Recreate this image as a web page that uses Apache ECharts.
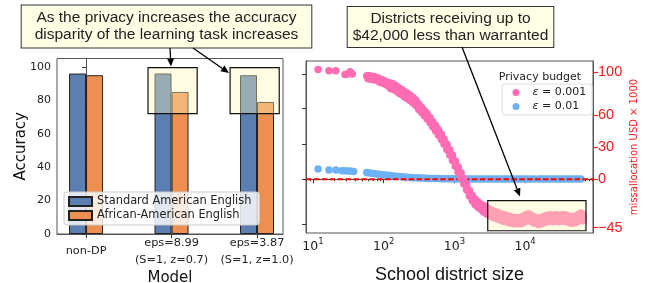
<!DOCTYPE html>
<html>
<head>
<meta charset="utf-8">
<script src="https://cdn.jsdelivr.net/npm/echarts@6/dist/echarts.min.js"></script>
<style>
html, body { margin: 0; padding: 0; background: #fff; }
#chart { width: 646px; height: 283px; }
</style>
</head>
<body>
<div id="chart"></div>
<script>
// ---- left panel: accuracy per model ----
const models = ["non-DP", "eps=8.99\n(S=1, z=0.7)", "eps=3.87\n(S=1, z=1.0)"];
const modelPos = [0, 1, 2];
const saeAcc = [96, 96, 95];
const aaeAcc = [95, 85, 79];
const accTicks = [0, 20, 40, 60, 80, 100];
// highlight boxes: [x0, x1, y0, y1]
const accBoxes = [[0.725, 1.3, 72, 99.5], [1.685, 2.26, 72, 99.5]];

// ---- right panel: missallocation vs district size ----
const sizeTicks = [10, 100, 1000, 10000];
const sizeMinor = [8, 9, 20, 30, 40, 50, 60, 70, 80, 90, 200, 300, 400, 500, 600, 700, 800, 900,
  2000, 3000, 4000, 5000, 6000, 7000, 8000, 9000, 20000, 30000, 40000, 50000, 60000, 70000, 80000, 90000];
const missTicks = [-45, 0, 30, 60, 100];
const spineTicks = [98, 65.7, 32.7, 0, -42.3];

// eps = 0.001, sparse small districts
const pinkSparseSize = [11.8, 16.8, 21, 28.4, 30.9, 33.4, 36, 57.5];
const pinkSparseVal = [102, 101, 101, 97.5, 98, 100, 98, 96];
// eps = 0.001, dense band (middle, upper and lower edge of the cloud)
const bandSize = [60, 66, 72, 79, 87, 95, 104, 114, 125, 137, 150, 165, 180, 198, 217, 238, 260, 285,
  313, 343, 376, 412, 452, 495, 543, 595, 652, 715, 783, 858, 940, 1030, 1130, 1240, 1360, 1490,
  1630, 1790, 1960, 2150, 2350, 2580, 2830, 3100, 3400, 3730, 4090, 4480, 4910, 5380, 5900, 6470,
  7090, 7770, 8520, 9340, 10200, 11200, 12300, 13500, 15500, 17000, 18600, 20400, 22400, 24500,
  26900, 29500, 32300, 35400, 38800, 42500, 46600, 51100, 56000, 61400, 66000];
const pinkMid = [95, 94.5, 94, 93.5, 92, 91, 90, 88.5, 87, 86, 84.5, 82.5, 81, 79, 77.5, 75.5, 73.5, 71,
  67.5, 64.5, 61.5, 58.5, 55, 51, 47.5, 43.5, 39.5, 35, 30, 25, 20, 14.5, 9, 3.5, -2, -7.5,
  -13, -17.5, -21, -23.5, -25.5, -27.5, -29, -30.5, -32, -33, -34, -35, -36, -36.5, -37.5, -38,
  -38.5, -38.5, -38.5, -37.5, -36, -35, -36.5, -38, -39, -38.5, -37.5, -36.5, -36, -36.5,
  -36, -36.5, -36, -36, -36.5, -37.5, -38, -37.5, -36, -34.5, -35.5];
const pinkUpper = [96.5, 96, 95.5, 95, 93.5, 92.5, 91.5, 90, 89.5, 88.5, 87, 85, 83.5, 81.5, 80, 78, 76, 73.5,
  70, 67, 64, 61, 57.5, 53.5, 50, 46, 42, 37.5, 32.5, 27.5, 22.5, 17, 11.5, 6, 0.5, -5,
  -10.5, -15, -18.5, -21, -23, -24.5, -26, -27.5, -29, -30, -31, -32, -33, -33.5, -34.5, -35,
  -35.5, -35.5, -35.5, -34.5, -33, -32, -33.5, -35, -36, -35.5, -34.5, -33.5, -33, -33.5,
  -33, -33.5, -33, -33, -33.5, -34.5, -35, -34.5, -33, -31.5, -32.5];
const pinkLower = [93.5, 93, 92.5, 92, 90.5, 89.5, 88.5, 87, 84.5, 83.5, 82, 80, 78.5, 76.5, 75, 73, 71, 68.5,
  65, 62, 59, 56, 52.5, 48.5, 45, 41, 37, 32.5, 27.5, 22.5, 17.5, 12, 6.5, 1, -4.5, -10,
  -15.5, -20, -23.5, -26, -28, -30.5, -32, -33.5, -35, -36, -37, -38, -39, -39.5, -40.5, -41,
  -41.5, -41.5, -41.5, -40.5, -39, -38, -39.5, -41, -42, -41.5, -40.5, -39.5, -39, -39.5,
  -39, -39.5, -39, -39, -39.5, -40.5, -41, -40.5, -39, -37.5, -38.5];

// eps = 0.01
const blueSparseSize = [11.8, 16.8, 21, 25.5, 28, 31, 34, 37.5, 57.5];
const blueSparseVal = [9.5, 8.6, 8.6, 7.8, 7.8, 7.6, 7.6, 7.3, 6.2];
const blueVal = [6, 5.6, 5.3, 5, 4.6, 4.3, 4, 3.7, 3.4, 3.1, 2.8, 2.5, 2.3, 2.1, 1.9, 1.7, 1.5, 1.3,
  1.2, 1.1, 1, 0.9, 0.8, 0.7, 0.6, 0.6, 0.5, 0.5, 0.5, 0.4, 0.4, 0.4, 0.3, 0.3, 0.3, 0.3,
  0.3, 0.3, 0.2, 0.3, 0.3, 0.2, 0.3, 0.3, 0.2, 0.3, 0.3, 0.2, 0.3, 0.3, 0.2, 0.3,
  0.3, 0.2, 0.3, 0.3, 0.2, 0.3, 0.3, 0.2, 0.3, 0.3, 0.2, 0.3, 0.3, 0.2,
  0.3, 0.3, 0.2, 0.3, 0.3, 0.2, 0.3, 0.3, 0.2, 0.3];
const tailBox = [[2960, 72600, -47.9, -19.8]];

const PINK = "#ff6cb3";
const BLUE = "#6cb1f6";
const BOXFILL = "rgba(255, 246, 185, 0.38)";

function pairs(xs, ys) {
  return ys.map((y, i) => [xs[i], y]);
}

function boxItem(params, api) {
  var p0 = api.coord([api.value(0), api.value(3)]);
  var p1 = api.coord([api.value(1), api.value(2)]);
  return {
    type: "rect",
    shape: { x: p0[0], y: p0[1], width: p1[0] - p0[0], height: p1[1] - p0[1] },
    style: { fill: BOXFILL, stroke: "#111", lineWidth: 1.2 },
  };
}

function arrow(x1, y1, x2, y2) {
  var a = Math.atan2(y2 - y1, x2 - x1);
  var len = 8, w = 3.5;
  var bx = x2 - len * Math.cos(a), by = y2 - len * Math.sin(a);
  return [
    { type: "line", zlevel: 2, z: 100, shape: { x1: x1, y1: y1, x2: bx, y2: by }, style: { stroke: "#000", lineWidth: 1.3 } },
    {
      type: "polygon", zlevel: 2, z: 100,
      shape: { points: [[x2, y2], [bx - w * Math.sin(a), by + w * Math.cos(a)], [bx + w * Math.sin(a), by - w * Math.cos(a)]] },
      style: { fill: "#000" },
    },
  ];
}

function note(text, x, y, pad) {
  return {
    type: "text", zlevel: 2, z: 100, x: x, y: y,
    style: {
      text: text, align: "center", verticalAlign: "middle", textAlign: "center", textVerticalAlign: "middle",
      font: '15.5px "Liberation Sans"', fill: "#222", lineHeight: 17,
      backgroundColor: "#ffffe6", borderColor: "#333", borderWidth: 1, padding: pad,
    },
  };
}

const DJ = "DejaVu Sans";
const LS = "Liberation Sans";

var chart = echarts.init(document.getElementById("chart"), null, { renderer: "canvas" });

var option = {
  animation: false,
  backgroundColor: "#fff",
  grid: [
    { left: 57, right: 363, top: 58.5, bottom: 49, show: true, borderColor: "#555", borderWidth: 1, outerBoundsMode: "none" },
    { left: 306, right: 53, top: 61, bottom: 50, show: true, borderColor: "#555", borderWidth: 1, outerBoundsMode: "none" },
  ],
  xAxis: [
    {
      gridIndex: 0, type: "value", min: -0.34, max: 2.304,
      name: "Model", nameLocation: "middle", nameGap: 36.5, nameMoveOverlap: false,
      nameTextStyle: { fontFamily: DJ, fontSize: 15, color: "#111" },
      axisLine: { lineStyle: { color: "#555" } },
      axisTick: { customValues: modelPos, length: 4, lineStyle: { color: "#333" } },
      axisLabel: {
        customValues: modelPos, formatter: (v) => models[Math.round(v)],
        fontFamily: DJ, fontSize: 11.3, color: "#222", verticalAlign: "middle", margin: 17.5, lineHeight: 17,
      },
      splitLine: { show: false },
    },
    {
      gridIndex: 1, type: "log", logBase: 10, min: 7.96, max: 91200,
      name: "School district size", nameLocation: "middle", nameGap: 33, nameMoveOverlap: false,
      nameTextStyle: { fontFamily: LS, fontSize: 18, color: "#111" },
      axisLine: { lineStyle: { color: "#555" } },
      axisTick: { customValues: sizeTicks, length: 4, lineStyle: { color: "#333" } },
      axisLabel: {
        customValues: sizeTicks, margin: 4,
        formatter: (v) => "{b|10}{s|" + Math.round(Math.log10(v)) + "}",
        rich: {
          b: { fontFamily: DJ, fontSize: 12.5, color: "#222", lineHeight: 16, verticalAlign: "bottom" },
          s: { fontFamily: DJ, fontSize: 8.5, color: "#222", lineHeight: 9, verticalAlign: "top" },
        },
      },
      splitLine: { show: false },
      minorTick: { show: false },
    },
    {
      gridIndex: 1, type: "log", logBase: 10, min: 7.96, max: 91200, position: "bottom",
      axisLine: { show: false },
      axisTick: { customValues: sizeMinor, length: 2, lineStyle: { color: "#333" } },
      axisLabel: { show: false },
      splitLine: { show: false },
    },
  ],
  yAxis: [
    {
      gridIndex: 0, type: "value", min: 0, max: 105,
      name: "Accuracy", nameLocation: "middle", nameGap: 28, nameMoveOverlap: false,
      nameTextStyle: { fontFamily: DJ, fontSize: 15, color: "#111" },
      axisLine: { show: true, lineStyle: { color: "#555" } },
      axisTick: { show: true, customValues: accTicks, length: 4, lineStyle: { color: "#333" } },
      axisLabel: { customValues: accTicks, fontFamily: DJ, fontSize: 11, color: "#222", margin: 6 },
      splitLine: { show: false },
    },
    {
      gridIndex: 1, type: "value", min: -50, max: 110, position: "left",
      axisLine: { show: true, lineStyle: { color: "#555" } },
      axisTick: { show: true, customValues: spineTicks, length: 4, lineStyle: { color: "#333" } },
      axisLabel: { show: false },
      splitLine: { show: false },
    },
    {
      gridIndex: 1, type: "value", min: -50, max: 110, position: "right",
      name: "missallocation USD \u00d7 1000", nameLocation: "middle", nameGap: 36, nameRotate: 90, nameMoveOverlap: false,
      nameTextStyle: { fontFamily: DJ, fontSize: 10, color: "#ff2020" },
      axisLine: { show: true, lineStyle: { color: "#555" } },
      axisTick: { show: true, customValues: missTicks, length: 5, lineStyle: { color: "#ff2020", width: 1.2 } },
      axisLabel: {
        customValues: missTicks, fontFamily: LS, fontSize: 14.5, color: "#ff1a1a", margin: 5,
        formatter: (v) => (v < 0 ? "\u2212" + -v : String(v)),
      },
      splitLine: { show: false },
    },
  ],
  legend: [
    {
      data: ["Standard American English", "African-American English"],
      left: 64, top: 192, orient: "vertical", icon: "rect",
      itemWidth: 23, itemHeight: 9, itemGap: 3, padding: [4, 8, 4, 4],
      backgroundColor: "rgba(255,255,255,0.82)", borderColor: "#ccc", borderWidth: 1, borderRadius: 3,
      textStyle: { fontFamily: DJ, fontSize: 11.4, color: "#222" },
    },
    {
      data: ["\u03b5 = 0.001", "\u03b5 = 0.01"],
      left: 502, top: 84, orient: "vertical", icon: "circle",
      itemWidth: 7, itemHeight: 7, itemGap: 3, padding: [3, 6, 3, 10.5],
      backgroundColor: "rgba(255,255,255,0.85)", borderColor: "#ddd", borderWidth: 1, borderRadius: 3,
      formatter: (name) => "{i|\u03b5}" + name.slice(1),
      textStyle: {
        fontFamily: DJ, fontSize: 11, color: "#222", padding: [0, 0, 0, 8],
        rich: { i: { fontFamily: DJ, fontStyle: "italic", fontSize: 11, color: "#222" } },
      },
    },
  ],
  series: [
    {
      name: "Standard American English", type: "bar", xAxisIndex: 0, yAxisIndex: 0,
      data: pairs(modelPos, saeAcc), barWidth: 17, barGap: "0%", z: 2,
      itemStyle: { color: "#5a7fb0", borderColor: "#222", borderWidth: 1 },
    },
    {
      name: "African-American English", type: "bar", xAxisIndex: 0, yAxisIndex: 0,
      data: pairs(modelPos, aaeAcc), barWidth: 17, barGap: "0%", z: 2,
      itemStyle: { color: "#ec8f50", borderColor: "#222", borderWidth: 1 },
    },
    {
      type: "custom", xAxisIndex: 0, yAxisIndex: 0, z: 3,
      data: accBoxes, renderItem: boxItem, silent: true,
    },
    {
      name: "\u03b5 = 0.01", type: "scatter", xAxisIndex: 1, yAxisIndex: 2, z: 2,
      symbolSize: 7.5, itemStyle: { color: BLUE, opacity: 1 },
      data: pairs(blueSparseSize, blueSparseVal).concat(pairs(bandSize, blueVal)),
    },
    {
      type: "line", xAxisIndex: 1, yAxisIndex: 2, zlevel: 1, z: 1, symbol: "none", silent: true,
      data: [[7.96, 0], [91200, 0]],
      lineStyle: { color: "#ff0000", width: 1.8, type: [5.5, 2.4] },
    },
    {
      name: "\u03b5 = 0.001", type: "scatter", xAxisIndex: 1, yAxisIndex: 2, zlevel: 1, z: 2,
      symbolSize: 7.5, itemStyle: { color: PINK, opacity: 1 },
      data: pairs(pinkSparseSize, pinkSparseVal)
        .concat(pairs(bandSize, pinkMid))
        .concat(pairs(bandSize, pinkUpper))
        .concat(pairs(bandSize, pinkLower)),
    },
    {
      type: "custom", xAxisIndex: 1, yAxisIndex: 2, zlevel: 1, z: 3,
      data: tailBox, renderItem: boxItem, silent: true,
    },
  ],
  graphic: [
    note("As the privacy increases the accuracy\ndisparity of the learning task increases", 166.5, 26.5, [4, 13]),
    note("Districts receiving up to\n$42,000 less than warranted", 450.5, 27, [3, 5]),
    {
      type: "text", zlevel: 2, z: 100, x: 540, y: 77,
      style: {
        text: "Privacy budget", align: "center", verticalAlign: "middle", textAlign: "center", textVerticalAlign: "middle",
        font: '11px "DejaVu Sans"', fill: "#222",
      },
    },
  ]
    .concat(arrow(170, 48, 171, 66.5))
    .concat(arrow(193, 48, 229, 73))
    .concat(arrow(462, 47, 520, 196.5)),
};

chart.setOption(option);

window.addEventListener("resize", function() {
  chart.resize();
});
</script>
</body>
</html>
